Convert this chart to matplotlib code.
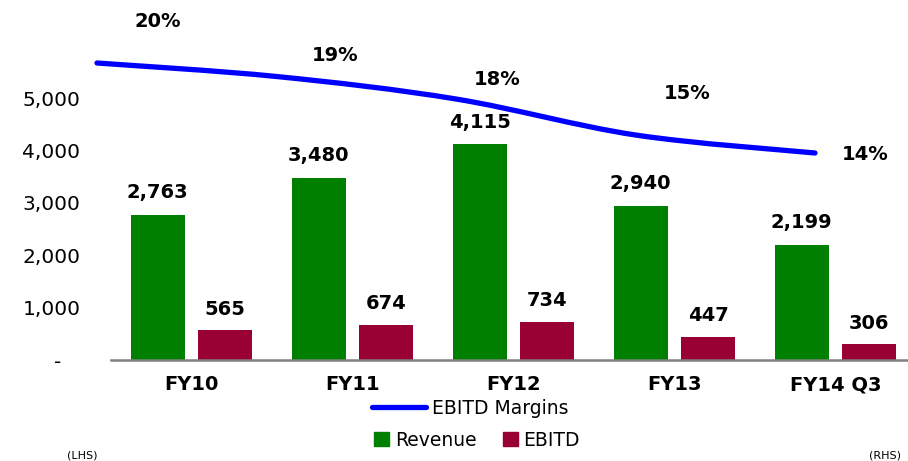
import matplotlib

matplotlib.use("Agg")
import matplotlib.pyplot as plt
from matplotlib.path import Path
from matplotlib.patches import PathPatch, Patch
from matplotlib.lines import Line2D
from matplotlib.ticker import FuncFormatter


categories = ["FY10", "FY11", "FY12", "FY13", "FY14 Q3"]
revenue = [2763, 3480, 4115, 2940, 2199]
ebitd = [565, 674, 734, 447, 306]
margins = [20.0, 19.1, 17.6, 15.2, 14.0]
yticks = [0, 1000, 2000, 3000, 4000, 5000]

green = "#008000"
red = "#990033"
blue = "#0000FF"

W, H = 908, 461
fig = plt.figure(figsize=(W / 100, H / 100), dpi=100)

# bars, left axis
ax = fig.add_axes([111 / W, (H - 360) / H, (W - 111) / W, 340 / H])
x = list(range(len(categories)))
bw = 0.335
ax.bar([i - 0.21 for i in x], revenue, bw, color=green, zorder=2)
ax.bar([i + 0.21 for i in x], ebitd, bw, color=red, zorder=2)
ax.set_xlim(-0.5, 4.45)
ax.set_ylim(0, 340 / 52.4 * 1000)
ax.set_yticks(yticks)
ax.yaxis.set_major_formatter(FuncFormatter(lambda v, p: "-   " if v == 0 else f"{v:,.0f}"))
ax.set_xticks(x)
ax.set_xticklabels(categories, fontweight="bold", fontsize=14)
ax.tick_params(axis="x", length=0, pad=11)
ax.tick_params(axis="y", length=0, pad=22, labelsize=14.5)
for s in ["top", "right", "left"]:
    ax.spines[s].set_visible(False)
ax.spines["bottom"].set_color("#808080")
ax.spines["bottom"].set_linewidth(1.8)

for i in x:
    ax.annotate(f"{revenue[i]:,}", (i - 0.21, revenue[i]), xytext=(0, 16), textcoords="offset points",
                ha="center", va="center", fontsize=14, fontweight="bold")
    ax.annotate(f"{ebitd[i]:,}", (i + 0.21, ebitd[i]), xytext=(0, 15), textcoords="offset points",
                ha="center", va="center", fontsize=14, fontweight="bold")

# margin line, own axes over the whole figure
ax2 = fig.add_axes([0, 0, 1, 1], facecolor="none")
ax2.axis("off")
step = 179.5
ax2.set_xlim(-97 / step, (W - 97) / step)
ax2.set_ylim(20 - (H - 63) / 15, 20 + 63 / 15)

pts = list(zip(range(len(margins)), margins))
verts = [pts[0]]
codes = [Path.MOVETO]
for k in range(len(pts) - 1):
    p0 = pts[k - 1] if k > 0 else pts[k]
    p1, p2 = pts[k], pts[k + 1]
    p3 = pts[k + 2] if k + 2 < len(pts) else pts[k + 1]
    c1 = (p1[0] + (p2[0] - p0[0]) / 6, p1[1] + (p2[1] - p0[1]) / 6)
    c2 = (p2[0] - (p3[0] - p1[0]) / 6, p2[1] - (p3[1] - p1[1]) / 6)
    verts += [c1, c2, p2]
    codes += [Path.CURVE4] * 3
ax2.add_patch(PathPatch(Path(verts, codes), facecolor="none", edgecolor=blue, lw=3.8, capstyle="round"))

label_off = [(44, 30), (42, 15), (30, 14), (37, 30), (36, -1)]
for i, m in enumerate(margins):
    ax2.annotate(f"{m:.0f}%", (i, m), xytext=label_off[i], textcoords="offset points",
                 ha="center", va="center", fontsize=14, fontweight="bold")

leg1 = ax2.legend([Line2D([], [], color=blue, lw=3.8, solid_capstyle="round")], ["EBITD Margins"],
                  loc="center", bbox_to_anchor=(470 / W, (H - 408) / H), frameon=True,
                  fontsize=13.5, handlelength=2.9, handletextpad=0.3, borderpad=0.3)
leg1.get_frame().set_edgecolor("none")
leg1.get_frame().set_alpha(1)
ax2.add_artist(leg1)
leg2 = ax2.legend([Patch(color=green), Patch(color=red)], ["Revenue", "EBITD"], ncol=2,
                  loc="center", bbox_to_anchor=(477 / W, (H - 440) / H), frameon=False,
                  fontsize=13.5, handlelength=0.8, handleheight=0.8, handletextpad=0.3, columnspacing=1.4)

fig.text(82 / W, (H - 455) / H, "(LHS)", ha="center", va="center", fontsize=8)
fig.text(885 / W, (H - 455) / H, "(RHS)", ha="center", va="center", fontsize=8)

fig.savefig("out.png", dpi=100)
